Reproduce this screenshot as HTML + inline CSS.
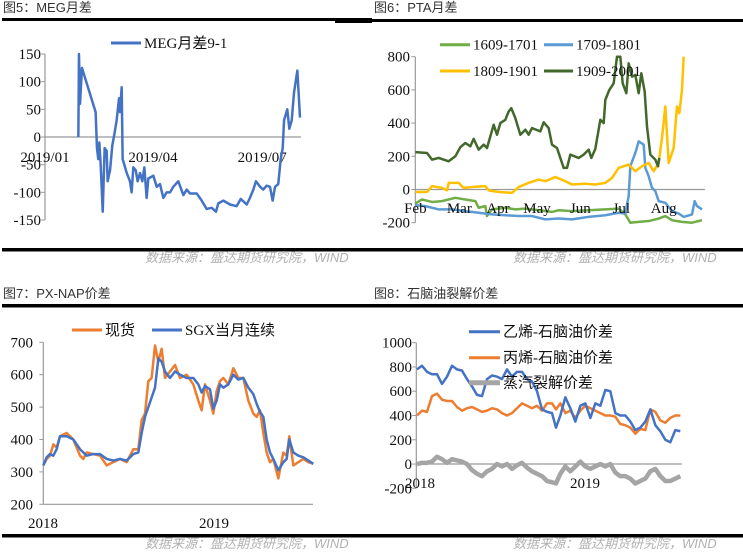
<!DOCTYPE html>
<html><head><meta charset="utf-8">
<style>
html,body{margin:0;padding:0;background:#fff;}
svg{display:block;}
.tt{font-family:"Liberation Sans","Noto Sans CJK SC",sans-serif;font-size:13px;fill:#333;}
.src{font-family:"Liberation Sans","Noto Sans CJK SC",sans-serif;font-size:13px;fill:#b0b0b0;font-style:italic;}
.ax{font-family:"Liberation Serif","Noto Serif CJK SC",serif;font-size:15px;fill:#111;}
.lg{font-family:"Liberation Serif","Noto Sans CJK SC",sans-serif;font-size:15px;fill:#111;}
</style></head>
<body>
<svg id="c" width="743" height="553" viewBox="0 0 743 553" xmlns="http://www.w3.org/2000/svg">
<rect x="0" y="0" width="743" height="553" fill="#fff"/>
<text class="tt" x="3" y="12">图5：MEG月差</text>
<text class="tt" x="374" y="12">图6：PTA月差</text>
<text class="tt" x="3" y="298">图7：PX-NAP价差</text>
<text class="tt" x="374" y="298">图8：石脑油裂解价差</text>
<rect x="2" y="18" width="333" height="3" fill="#000"/>
<rect x="335" y="18" width="37" height="5" fill="#000"/>
<rect x="372" y="19" width="371" height="3" fill="#000"/>
<rect x="2" y="248" width="741" height="3.5" fill="#000"/>
<rect x="2" y="304" width="741" height="3.5" fill="#000"/>
<rect x="2" y="534" width="741" height="3.5" fill="#000"/>
<text class="src" x="145" y="262">数据来源：盛达期货研究院，WIND</text>
<text class="src" x="513" y="262">数据来源：盛达期货研究院，WIND</text>
<text class="src" x="145" y="548">数据来源：盛达期货研究院，WIND</text>
<text class="src" x="513" y="548">数据来源：盛达期货研究院，WIND</text>
</svg>
<script>
// ---------- Fig5 MEG data ----------
const megDays=[27.8,28.3,29.2,30.8,42.2,43.3,44.4,45.3,46.4,48.1,49.7,51.4,52.2,54.2,56.1,57.8,59.7,61.7,62.5,63.9,64.7,66.1,68.1,70.8,72.2,73.6,75.6,77.2,79.2,81.1,82.8,84.7,86.1,90.3,93.1,95.8,98.6,101.4,104.2,106.9,111.1,115.3,118.1,120.8,126.4,130.6,134.7,138.9,142.5,144.4,148.6,154.2,159.7,163.1,168.1,170.8,173.6,175.8,179.2,181.9,184.7,187.5,189.7,191.7,194.4,196.4,198.1,199.2,201.9,203.6,205.6,207.5,210.3,212.5];
const megValues=[0,150,60,125,45,-20,-40,-10,-50,-135,-20,-25,-80,-60,-15,5,30,70,45,90,-40,-50,-65,-80,-100,-55,-60,-80,-65,-80,-55,-110,-75,-70,-90,-85,-110,-100,-100,-90,-80,-105,-95,-102,-102,-115,-130,-128,-135,-120,-115,-122,-125,-112,-122,-110,-95,-80,-90,-95,-88,-90,-115,-90,-85,-40,-20,30,50,15,30,80,120,35];
const megYTicks=[150,100,50,0,-50,-100,-150];
const megXTickDays=[0,90,181];
const megXTickLabels=["2019/01","2019/04","2019/07"];

// ---------- Fig6 PTA data (x in days since Feb 1) ----------
const ptaX1609=[130,150,180,210,250,280,310,320,340,345,360,400,430,460,500,540,560,600,650,700,740,760,775,800,830,860,880,900,930,960,990];
const ptaV1609=[-85,-60,-75,-70,-50,-60,-70,-110,-100,-160,-120,-110,-120,-115,-125,-135,-125,-130,-125,-120,-115,-150,-200,-195,-190,-175,-160,-185,-195,-200,-185];
const ptaX1709=[130,160,200,240,280,320,360,400,440,480,520,560,600,650,700,740,760,770,775,790,800,815,820,830,840,850,860,880,900,920,935,960,968,975,990];
const ptaV1709=[-95,-100,-120,-120,-130,-140,-150,-155,-160,-160,-180,-175,-180,-165,-155,-140,-145,-40,140,220,290,270,130,80,10,-10,-70,-80,-130,-145,-165,-150,-70,-100,-120];
const ptaX1809=[130,165,180,210,225,230,260,275,300,340,350,380,420,440,470,500,520,550,580,600,640,670,700,720,740,770,790,810,830,845,860,870,880,890,905,915,922,930,935];
const ptaV1809=[-15,-15,20,10,-5,40,40,10,15,20,-5,-15,-20,15,40,60,50,75,50,30,35,30,40,70,130,150,110,140,160,110,160,310,500,160,250,500,460,600,800];
const ptaX1909=[130,165,180,200,230,250,265,280,295,305,320,335,345,365,375,385,400,410,418,430,445,460,470,480,505,515,530,540,555,575,585,595,620,635,650,658,670,685,695,700,712,725,735,745,752,763,770,780,790,800,808,818,825,835,850,858,862];
const ptaV1909=[225,220,180,190,170,200,255,280,260,305,240,270,250,390,330,400,420,470,490,430,330,360,330,370,350,405,370,270,250,130,130,210,190,210,240,190,245,420,400,540,600,640,800,800,640,580,760,680,690,580,700,590,380,210,180,140,190];
const ptaYTicks=[800,600,400,200,0,-200];
const ptaMonths=["Feb","Mar","Apr","May","Jun","Jul","Aug"];
const ptaMonthX=[130,262,378,495,625,748,875];

// ---------- Fig7 PX-NAP ----------
const pxX=[130,140,150,160,170,180,200,220,240,250,260,280,300,320,340,360,380,400,415,425,435,445,455,465,475,485,495,510,525,540,560,580,595,605,615,630,640,650,660,670,685,700,715,730,745,760,770,780,790,800,810,820,835,850,860,868,880,895,910,925,940];
const pxSpot=[320,340,350,385,375,410,420,400,350,340,360,355,350,320,330,340,330,370,370,460,480,580,590,690,640,680,590,610,630,590,600,570,520,490,570,520,480,550,580,590,570,620,590,590,520,480,470,490,420,360,330,340,280,360,350,410,320,330,340,330,325];
const pxSgx=[320,345,355,350,370,410,410,400,370,360,350,355,355,340,335,340,335,355,360,420,470,500,530,560,650,640,610,590,610,600,590,590,570,545,565,555,495,520,570,560,570,600,585,590,560,540,510,485,470,400,360,340,305,330,340,400,360,350,345,335,325];
const pxYTicks=[700,600,500,400,300,200];

// ---------- Fig8 naphtha ----------
const npX=[135,150,165,180,195,210,225,240,255,270,285,300,315,330,345,360,375,390,405,420,435,450,465,480,495,510,525,540,552,565,580,595,610,625,640,655,670,685,700,715,730,745,760,775,790,805,820,835,850,865,880,895,910,925];
const npEthylene=[780,810,760,740,740,660,720,810,780,770,700,640,570,560,700,730,720,700,780,720,760,760,700,680,600,450,430,420,300,400,550,460,350,480,500,380,500,480,610,600,420,400,400,350,280,300,350,450,320,270,200,180,280,270];
const npPropylene=[400,440,430,560,580,530,520,520,470,440,460,470,450,430,440,460,450,420,400,420,460,500,480,460,480,440,500,500,450,500,420,440,380,440,480,460,440,420,400,400,390,330,320,300,250,290,280,450,430,360,340,380,400,400];
const npSteam=[0,10,10,20,60,40,10,40,30,20,0,-50,-80,-100,-60,-40,0,-20,0,-40,-10,10,-30,-60,-80,-100,-140,-150,-160,-80,-20,-60,-20,20,-20,-40,-20,0,-20,0,-70,-100,-100,-120,-160,-140,-120,-60,-40,-100,-140,-140,-120,-100];
const npYTicks=[1000,800,600,400,200,0,-200];

const NS="http://www.w3.org/2000/svg";
const svg=document.getElementById('c');
function mk(tag,attrs,parent){const e=document.createElementNS(NS,tag);for(const k in attrs)e.setAttribute(k,attrs[k]);(parent||svg).appendChild(e);return e;}
function lin(d0,d1,r0,r1){return v=>r0+(v-d0)*(r1-r0)/(d1-d0);}
function line(xs,vs,xf,yf,color,w,name){
  const d=xs.map((x,i)=>(i?'L':'M')+xf(x).toFixed(2)+','+yf(vs[i]).toFixed(2)).join('');
  const p=mk('path',{d:d,fill:'none',stroke:color,'stroke-width':w,'stroke-linejoin':'round'});
  
  
  return p;
}
function ylabels(ticks,yf,xr,name){
  ticks.forEach(t=>{const e=mk('text',{x:xr,y:yf(t)+5,'text-anchor':'end',class:'ax'});e.textContent=t;
    
    });
}
function yaxis(x,y0,y1,ticks,yf,name){
  const a=mk('line',{x1:x,x2:x,y1:y0,y2:y1,stroke:'#999','stroke-width':1.2});
  
  
  ticks.forEach(t=>{const tk=mk('line',{x1:x-4,x2:x,y1:yf(t),y2:yf(t),stroke:'#999','stroke-width':1});
    
    });
}
function hline(x0,x1,y,name){const l=mk('line',{x1:x0,x2:x1,y1:y,y2:y,stroke:'#999','stroke-width':1.2});
  
  }
function legend(x0,x1,y,color,w,label,name){
  const l=mk('line',{x1:x0,x2:x1,y1:y,y2:y,stroke:color,'stroke-width':w});
  
  
  const t=mk('text',{x:x1+3,y:y+5,class:'lg'});t.textContent=label;
  
  
}

// Fig5
{const xf=lin(0,1,45,46.2), yf=lin(150,-150,54,220);
 yaxis(45,54,220,megYTicks,yf,'fig5-y-axis');
 hline(45,301,yf(0),'fig5-zero-line');
 ylabels(megYTicks,yf,41,'fig5-y-tick-label');
 megXTickDays.forEach((d,i)=>{const t=mk('text',{x:xf(d),y:162,'text-anchor':'middle',class:'ax'});t.textContent=megXTickLabels[i];
   
   });
 line(megDays,megValues,xf,yf,'#4472C4',2.5,'fig5-meg-line');
 legend(111,141,43,'#4472C4',3,'MEG月差9-1','fig5-legend-entry');
}
// Fig6
{const xf=v=>372+v/3, yf=lin(800,-200,56.7,222.7);
 yaxis(415.3,56.7,222.7,ptaYTicks,yf,'fig6-y-axis');
 hline(415.3,705,yf(0),'fig6-zero-line');
 ylabels(ptaYTicks,yf,410,'fig6-y-tick-label');
 line(ptaX1609,ptaV1609,xf,yf,'#70AD47',2.5,'fig6-1609-line');
 line(ptaX1709,ptaV1709,xf,yf,'#5B9BD5',2.5,'fig6-1709-line');
 line(ptaX1809,ptaV1809,xf,yf,'#FFC000',2.5,'fig6-1809-line');
 line(ptaX1909,ptaV1909,xf,yf,'#43682B',2.5,'fig6-1909-line');
 ptaMonths.forEach((m,i)=>{const t=mk('text',{x:xf(ptaMonthX[i]),y:213,'text-anchor':'middle',class:'ax'});t.textContent=m;
   
   });
 legend(440,470,44.7,'#70AD47',3,'1609-1701','fig6-legend-1609');
 legend(544,573,44.7,'#5B9BD5',3,'1709-1801','fig6-legend-1709');
 legend(440,470,71,'#FFC000',3,'1809-1901','fig6-legend-1809');
 legend(544,573,71,'#43682B',3,'1909-2001','fig6-legend-1909');
}
// Fig7
{const xf=v=>v/3, yf=lin(700,200,342.3,504.3);
 yaxis(43.3,342.3,504.3,pxYTicks,yf,'fig7-y-axis');
 hline(43.3,313,504.3,'fig7-x-axis');
 ylabels(pxYTicks,yf,33,'fig7-y-tick-label');
 line(pxX,pxSpot,xf,yf,'#ED7D31',2.5,'fig7-spot-line');
 line(pxX,pxSgx,xf,yf,'#4472C4',2.5,'fig7-sgx-line');
 [["2018",43],["2019",214]].forEach(a=>{const t=mk('text',{x:a[1],y:528,'text-anchor':'middle',class:'ax'});t.textContent=a[0];
   
   });
 legend(72,102,330,'#ED7D31',3,'现货','fig7-legend-spot');
 legend(152,182,330,'#4472C4',3,'SGX当月连续','fig7-legend-sgx');
}
// Fig8
{const xf=v=>372+v/3, yf=lin(1000,-200,342.7,488.3);
 yaxis(416.3,342.7,488.3,npYTicks,yf,'fig8-y-axis');
 hline(416.3,682,yf(0),'fig8-zero-line');
 ylabels(npYTicks,yf,412,'fig8-y-tick-label');
 line(npX,npSteam,xf,yf,'#A5A5A5',4.5,'fig8-steam-line');
 line(npX,npPropylene,xf,yf,'#ED7D31',2.5,'fig8-propylene-line');
 line(npX,npEthylene,xf,yf,'#4472C4',2.5,'fig8-ethylene-line');
 [["2018",420],["2019",585]].forEach(a=>{const t=mk('text',{x:a[1],y:488,'text-anchor':'middle',class:'ax'});t.textContent=a[0];
   
   });
 legend(469,500,331.7,'#4472C4',3,'乙烯-石脑油价差','fig8-legend-ethylene');
 legend(469,500,357.7,'#ED7D31',3,'丙烯-石脑油价差','fig8-legend-propylene');
 legend(469,500,382.7,'#A5A5A5',5,'蒸汽裂解价差','fig8-legend-steam');
}
</script>
</body></html>
